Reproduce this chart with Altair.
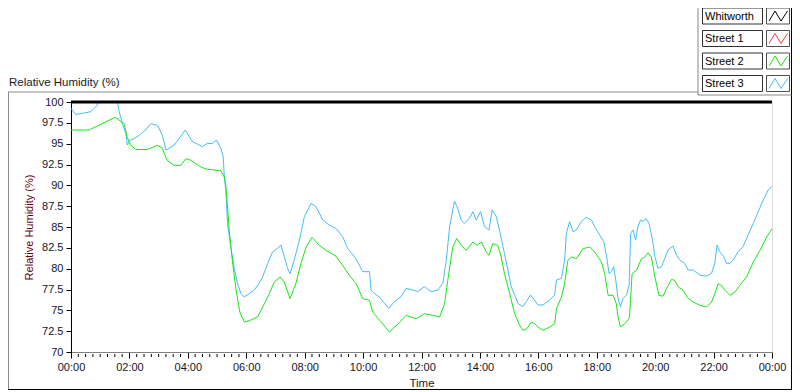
import altair as alt
import pandas as pd

# ---------------- data ----------------
series_names = ["Whitworth", "Street 1", "Street 2", "Street 3"]
series_colors = ["#000000", "#ff3c3c", "#19e619", "#45bdf5"]

whitworth_hours = [0.0, 24.0]
whitworth_rh = [100.0, 100.0]

street2_hours = [0.00, 0.62, 1.51, 1.82, 1.92, 2.05, 2.22, 2.61, 2.95, 3.12,
                 3.29, 3.53, 3.76, 3.93, 4.10, 4.45, 4.62, 5.13, 5.25, 5.30,
                 5.36, 5.42, 5.54, 5.65, 5.78, 5.93, 6.10, 6.39, 6.62, 6.79,
                 6.96, 7.16, 7.30, 7.50, 7.70, 7.87, 8.05, 8.25, 8.50, 8.73,
                 9.07, 9.30, 9.53, 9.76, 9.99, 10.22, 10.33, 10.62, 10.90, 11.24,
                 11.47, 11.82, 12.10, 12.39, 12.62, 12.79, 12.90, 13.07, 13.21, 13.36,
                 13.53, 13.76, 13.91, 14.05, 14.22, 14.31, 14.44, 14.61, 14.73, 14.84,
                 15.02, 15.19, 15.36, 15.47, 15.61, 15.76, 15.87, 15.99, 16.16, 16.39,
                 16.56, 16.62, 16.79, 16.90, 17.01, 17.13, 17.30, 17.53, 17.76, 17.93,
                 18.16, 18.27, 18.39, 18.56, 18.67, 18.73, 18.81, 18.96, 19.11, 19.15,
                 19.21, 19.36, 19.53, 19.64, 19.76, 19.87, 19.99, 20.13, 20.27, 20.39,
                 20.56, 20.67, 20.79, 20.96, 21.09, 21.30, 21.53, 21.76, 21.93, 22.04,
                 22.16, 22.27, 22.39, 22.56, 22.73, 22.90, 23.13, 23.36, 23.59, 23.82,
                 24.00]
street2_rh = [96.64, 96.64, 98.16, 97.4, 95.8, 94.8, 94.3, 94.3, 94.8, 94.5,
              93.0, 92.4, 92.4, 93.2, 93.0, 92.2, 91.96, 91.76, 91.0, 90.0,
              87.4, 84.5, 80.5, 77.5, 74.8, 73.6, 73.75, 74.2, 75.8, 77.0,
              78.4, 79.0, 78.4, 76.4, 78.2, 80.6, 82.6, 83.76, 82.8, 82.2,
              81.5, 80.4, 79.2, 78.2, 76.4, 76.2, 74.8, 73.6, 72.4, 73.5,
              74.4, 74.0, 74.6, 74.4, 74.2, 75.8, 78.6, 82.6, 83.6, 82.8,
              82.2, 83.2, 82.8, 83.2, 82.0, 81.6, 83.0, 82.8, 81.4, 79.4,
              77.0, 74.6, 73.2, 72.6, 72.8, 73.6, 73.4, 73.0, 72.6, 73.0,
              73.4, 75.2, 76.6, 78.2, 81.0, 81.4, 81.2, 82.4, 82.6, 82.0,
              80.8, 79.4, 76.8, 76.8, 75.8, 74.2, 73.0, 73.4, 74.0, 75.8,
              79.4, 79.8, 81.2, 81.4, 81.9, 81.4, 79.0, 76.8, 76.7, 77.6,
              78.7, 78.6, 77.8, 77.4, 76.6, 76.0, 75.6, 75.4, 76.0, 77.0,
              78.2, 78.0, 77.4, 76.8, 77.2, 78.0, 79.0, 80.8, 82.2, 83.8,
              84.8]

street3_hours = [0.00, 0.16, 0.39, 0.68, 0.85, 0.96, 1.27, 1.59, 1.65, 1.76,
                 1.88, 1.93, 2.01, 2.16, 2.33, 2.54, 2.73, 2.96, 3.13, 3.25,
                 3.36, 3.53, 3.70, 3.91, 4.05, 4.16, 4.39, 4.50, 4.67, 4.84,
                 4.98, 5.13, 5.21, 5.25, 5.30, 5.36, 5.47, 5.59, 5.70, 5.82,
                 5.93, 6.10, 6.27, 6.44, 6.56, 6.73, 6.90, 7.07, 7.19, 7.30,
                 7.42, 7.50, 7.64, 7.82, 7.99, 8.22, 8.39, 8.62, 8.84, 9.07,
                 9.30, 9.47, 9.70, 9.87, 9.99, 10.22, 10.27, 10.39, 10.56, 10.73,
                 10.88, 11.07, 11.30, 11.47, 11.70, 11.87, 12.10, 12.33, 12.56, 12.73,
                 12.85, 12.96, 13.13, 13.24, 13.36, 13.47, 13.64, 13.76, 13.87, 14.02,
                 14.16, 14.31, 14.42, 14.56, 14.67, 14.79, 14.96, 15.07, 15.19, 15.30,
                 15.47, 15.59, 15.73, 15.87, 15.99, 16.16, 16.39, 16.56, 16.62, 16.79,
                 16.90, 16.96, 17.07, 17.19, 17.30, 17.47, 17.64, 17.82, 17.93, 18.10,
                 18.24, 18.33, 18.42, 18.50, 18.58, 18.65, 18.73, 18.81, 18.90, 19.02,
                 19.11, 19.16, 19.24, 19.33, 19.41, 19.50, 19.59, 19.68, 19.79, 19.91,
                 19.99, 20.10, 20.22, 20.33, 20.44, 20.61, 20.73, 20.84, 21.01, 21.13,
                 21.30, 21.53, 21.76, 21.93, 22.04, 22.12, 22.21, 22.35, 22.44, 22.56,
                 22.67, 22.84, 23.01, 23.18, 23.36, 23.53, 23.70, 23.87, 24.00]
street3_rh = [99.24, 98.5, 98.64, 98.84, 99.44, 100.0, 100.6, 100.0, 98.84, 97.4,
              96.2, 94.84, 95.4, 95.6, 96.0, 96.6, 97.4, 97.2, 96.0, 94.24,
              94.44, 94.84, 95.6, 96.64, 95.84, 95.24, 94.84, 94.64, 95.04, 95.0,
              95.44, 94.44, 93.44, 91.0, 89.4, 85.4, 82.6, 80.0, 78.24, 77.0,
              76.6, 77.0, 77.4, 78.24, 79.0, 80.6, 82.0, 82.44, 82.84, 81.44,
              80.0, 79.4, 81.0, 83.44, 86.24, 87.84, 87.44, 85.84, 85.24, 84.84,
              83.84, 82.44, 81.44, 80.44, 79.64, 79.64, 77.44, 77.0, 76.6, 75.84,
              75.24, 76.04, 76.64, 77.64, 77.44, 77.24, 77.84, 77.24, 77.44, 78.24,
              81.0, 85.0, 88.1, 87.24, 85.84, 85.44, 86.04, 86.84, 85.84, 86.84,
              85.04, 84.64, 87.04, 86.24, 84.64, 82.64, 79.84, 77.84, 76.84, 75.84,
              75.44, 76.04, 76.84, 76.24, 75.64, 75.64, 76.24, 76.84, 78.64, 78.84,
              81.04, 84.24, 85.64, 84.44, 84.64, 85.64, 86.16, 85.84, 85.04, 84.04,
              83.24, 81.64, 79.44, 79.64, 80.24, 78.64, 76.44, 75.44, 76.44, 76.84,
              78.04, 84.24, 84.64, 83.44, 85.04, 85.84, 85.64, 86.04, 85.44, 83.44,
              81.44, 80.04, 80.24, 81.24, 82.24, 82.72, 81.64, 81.04, 80.64, 79.84,
              79.84, 79.24, 79.12, 79.44, 80.64, 82.84, 82.04, 81.44, 80.64, 80.64,
              81.04, 82.04, 82.64, 84.04, 85.44, 86.84, 88.24, 89.44, 89.84]

x_label_hours = [0, 2, 4, 6, 8, 10, 12, 14, 16, 18, 20, 22, 24]
minor_tick_hours = [i / 4 for i in range(97) if i % 8]
y_tick_values = [70, 72.5, 75, 77.5, 80, 82.5, 85, 87.5, 90, 92.5, 95, 97.5, 100]

# ---------------- frames ----------------
df_w = pd.DataFrame({"h": whitworth_hours, "rh": whitworth_rh, "series": "Whitworth"})
df_s2 = pd.DataFrame({"h": street2_hours, "rh": street2_rh, "series": "Street 2"})
df_s3 = pd.DataFrame({"h": street3_hours, "rh": street3_rh, "series": "Street 3"})
df_minor = pd.DataFrame({"h": minor_tick_hours})
one = pd.DataFrame({"a": [0]})

FONT = "Liberation Sans"
LABEL_COLOR = "#14142a"

xscale = alt.Scale(domain=[0, 24], nice=False, zero=False)
yscale = alt.Scale(domain=[70, 100], nice=False, zero=False)
cscale = alt.Scale(domain=series_names, range=series_colors)

xaxis = alt.Axis(values=x_label_hours,
                 labelExpr="(datum.value % 24 < 10 ? '0' : '') + (datum.value % 24) + ':00'",
                 tickSize=6, tickColor="black", domainColor="#808080",
                 labelColor=LABEL_COLOR, labelFontSize=11, labelPadding=3,
                 labelOverlap=False, labelBound=False, labelFlush=False,
                 titleFontSize=11.5, titleFontWeight="normal", titleColor="#1a1a1a",
                 titlePadding=5, grid=False)
yaxis = alt.Axis(values=y_tick_values, format=".1~f", tickSize=5, tickColor="black",
                 domainColor="black", labelColor=LABEL_COLOR, labelFontSize=11,
                 labelPadding=3, grid=False, titleFontSize=11, titleFontWeight="normal",
                 titleColor="#600018", titleX=-41.5, titleY=125, titleBaseline="middle")

X = alt.X("h:Q", scale=xscale, axis=xaxis, title="Time")
Y = alt.Y("rh:Q", scale=yscale, axis=yaxis, title="Relative Humidity (%)")
C = alt.Color("series:N", scale=cscale, legend=None)

s3_layer = alt.Chart(df_s3).mark_line(clip=True, strokeWidth=1).encode(x=X, y=Y, color=C)
s2_layer = alt.Chart(df_s2).mark_line(clip=True, strokeWidth=1).encode(x=X, y=Y, color=C)
w_layer = alt.Chart(df_w).mark_line(strokeWidth=3).encode(x=X, y=Y, color=C)

minor_layer = alt.Chart(df_minor).mark_rule(color="black", strokeWidth=1).encode(
    x=X, y=alt.value(252), y2=alt.value(255))


def hrule(x1, x2, y, color, w=1):
    return alt.Chart(one).mark_rule(color=color, strokeWidth=w).encode(
        x=alt.value(x1), x2=alt.value(x2), y=alt.value(y))


def vrule(x, y1, y2, color, w=1):
    return alt.Chart(one).mark_rule(color=color, strokeWidth=w).encode(
        x=alt.value(x), y=alt.value(y1), y2=alt.value(y2))


def seg(x1, y1, x2, y2, color):
    return alt.Chart(one).mark_rule(color=color, strokeWidth=1).encode(
        x=alt.value(x1), x2=alt.value(x2), y=alt.value(y1), y2=alt.value(y2))


BOTTOM = 287.5
RIGHT = 720.5
decor = [
    hrule(-63, 627, -10, "#8a8a8a"),          # top frame line
    vrule(-62.5, -10, BOTTOM, "#8a8a8a"),     # left frame line
    hrule(-63, RIGHT + 0.5, BOTTOM, "#000000"),  # bottom frame line
    vrule(RIGHT, -94, BOTTOM, "#000000"),     # right frame line
    vrule(627, -94, -7, "#8a8a8a"),           # legend panel left
    hrule(627, RIGHT, -7, "#8a8a8a"),         # legend panel bottom
    alt.Chart(one).mark_text(text="Relative Humidity (%)", align="left", baseline="middle",
                             fontSize=11.5, font=FONT, color="#1a1a1a").encode(
        x=alt.value(-62), y=alt.value(-19)),
]

legend_tops = [-94, -71.5, -49, -26.5]
for name, color, top in zip(series_names, series_colors, legend_tops):
    decor.append(alt.Chart(one).mark_rect(fill="white", stroke="#303030", strokeWidth=1).encode(
        x=alt.value(631.5), x2=alt.value(691.5), y=alt.value(top), y2=alt.value(top + 16)))
    decor.append(alt.Chart(one).mark_rect(fill="white", stroke="#505050", strokeWidth=1).encode(
        x=alt.value(695.5), x2=alt.value(718.5), y=alt.value(top), y2=alt.value(top + 16)))
    decor.append(alt.Chart(one).mark_text(text=name, align="left", baseline="middle",
                                          fontSize=11, font=FONT, color="#000000").encode(
        x=alt.value(634), y=alt.value(top + 8.5)))
    xs = [698, 704, 710, 716.5]
    ys = [top + 13, top + 3, top + 13, top + 3]
    for i in range(3):
        decor.append(seg(xs[i], ys[i], xs[i + 1], ys[i + 1], color))

chart = alt.layer(s3_layer, s2_layer, w_layer, minor_layer, *decor).properties(
    width=701, height=250,
    autosize=alt.AutoSizeParams(type="none"),
    padding={"left": 63, "top": 94, "right": 20, "bottom": 40},
    background="white",
).configure_view(stroke="#808080", strokeWidth=1).configure(font=FONT)

chart.save("out.html", embed_options={"renderer": "svg", "actions": False})
